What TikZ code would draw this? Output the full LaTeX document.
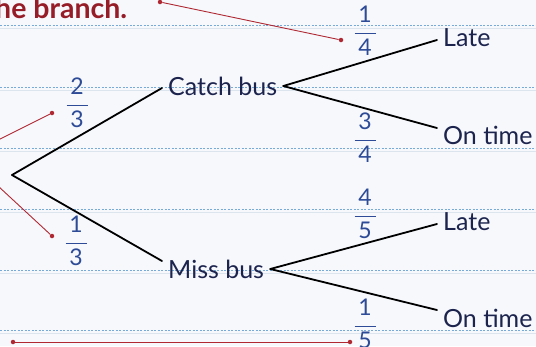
\documentclass[tikz,border=0pt]{standalone}
\usepackage{fontspec}
\setmainfont{Lato}
\definecolor{paper}{RGB}{246,248,252}
\definecolor{rule}{RGB}{120,170,215}
\definecolor{rulefaint}{RGB}{220,228,238}
\definecolor{ink}{RGB}{28,36,78}
\definecolor{fracblue}{RGB}{45,75,150}
\definecolor{callout}{RGB}{175,40,50}
\definecolor{title}{RGB}{150,28,40}
\newcommand\myfrac[2]{\begin{tabular}{@{}c@{}}#1\\[-9pt]\rule[3pt]{21pt}{1.8pt}\\[-6pt]#2\end{tabular}}
\tikzset{
  lbl/.style={font=\fontsize{25}{27}\selectfont, text=ink, inner xsep=6pt, inner ysep=0pt},
  frc/.style={font=\fontsize{23}{24}\selectfont, text=fracblue, inner sep=0pt},
  branch/.style={draw=black, line width=1.8pt, line cap=round},
  pointer/.style={draw=callout, line width=0.9pt},
  pdot/.style={circle, fill=callout, inner sep=0pt, minimum size=4.5pt},
  ruling/.style={draw=rule, line width=0.6pt, dash pattern=on 2pt off 1.5pt},
}
\begin{document}
\begin{tikzpicture}[x=1pt,y=-1pt]
\useasboundingbox (0,0) rectangle (536,346);
\fill[paper] (0,0) rectangle (536,346);
\clip (0,0) rectangle (536,346);
% ruled lines
\foreach \yy in {25,87,148,209,270,330}{
  \draw[rulefaint, line width=0.8pt] (0,\yy+3) -- (536,\yy+3);
  \draw[ruling] (0,\yy) -- (536,\yy);
}
% title fragment
\node[anchor=base west, inner sep=0pt, text=title, font=\fontsize{28.5}{30}\selectfont\bfseries] (ttl) at (-5,18) {he branch.};
% tree
\coordinate (root) at (12,175);
\node[lbl, anchor=west] (cb) at (162,86) {Catch bus};
\node[lbl, anchor=west] (mb) at (162,269) {Miss bus};
\node[lbl, anchor=west] (l1) at (437,38) {Late};
\node[lbl, anchor=west] (o1) at (437,135) {On time};
\node[lbl, anchor=west] (l2) at (437,222) {Late};
\node[lbl, anchor=west] (o2) at (437,318) {On time};
\draw[branch] (root) -- ([yshift=-2pt]cb.west);
\draw[branch] (root) -- ([yshift=8pt]mb.west);
\draw[branch] (cb.east) -- ([yshift=-2pt]l1.west);
\draw[branch] (cb.east) -- ([yshift=7pt]o1.west);
\draw[branch] (mb.east) -- ([yshift=-2pt]l2.west);
\draw[branch] (mb.east) -- ([yshift=8pt]o2.west);
% fractions
\node[frc] (f23) at (77,106) {\myfrac{2}{3}};
\node[frc] (f13) at (76,244) {\myfrac{1}{3}};
\node[frc] (f14) at (365,34) {\myfrac{1}{4}};
\node[frc] (f34) at (365,141) {\myfrac{3}{4}};
\node[frc] (f45) at (365,217) {\myfrac{4}{5}};
\node[frc] (f15) at (365,327) {\myfrac{1}{5}};
% callouts
\node[pdot] (d1) at (160,2) {};
\node[pdot] (d2) at (341,40) {};
\draw[pointer] (d1) -- (d2);
\coordinate (c3) at (-2,140);
\node[pdot] (d3) at (52,113) {};
\draw[pointer] (c3) -- (d3);
\coordinate (c4) at (-2,186);
\node[pdot] (d4) at (52,236) {};
\draw[pointer] (c4) -- (d4);
\node[pdot] (d5) at (13,342) {};
\node[pdot] (d6) at (350,342) {};
\draw[pointer] (d5) -- (d6);
\end{tikzpicture}
\end{document}
